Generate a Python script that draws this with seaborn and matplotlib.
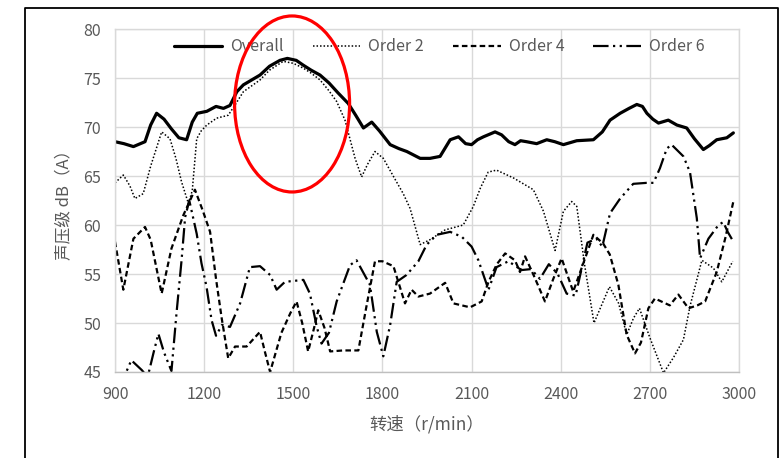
import matplotlib
matplotlib.use("Agg")
import matplotlib.pyplot as plt
from matplotlib.patches import Ellipse
from matplotlib.lines import Line2D
import seaborn as sns
import pandas as pd

# ---------------- data ----------------
overall_rpm = [900, 930, 962, 1001, 1020, 1040, 1065, 1090, 1115, 1141, 1160, 1177, 1209, 1240,
               1265, 1287, 1310, 1332, 1360, 1388, 1420, 1455, 1480, 1510, 1534, 1560, 1590, 1620,
               1650, 1685, 1710, 1736, 1764, 1790, 1826, 1855, 1882, 1927, 1960, 1994, 2028, 2056,
               2080, 2100, 2120, 2140, 2179, 2201, 2225, 2246, 2265, 2285, 2319, 2353, 2380, 2409,
               2454, 2510, 2540, 2566, 2600, 2630, 2656, 2675, 2690, 2710, 2729, 2762, 2791, 2824,
               2850, 2880, 2900, 2925, 2959, 2981]
overall_db = [68.5, 68.3, 68.0, 68.5, 70.2, 71.4, 70.8, 69.8, 68.9, 68.7, 70.5, 71.4, 71.6, 72.1,
              71.9, 72.2, 73.6, 74.3, 74.8, 75.3, 76.2, 76.8, 77.0, 76.8, 76.3, 75.8, 75.3, 74.5,
              73.5, 72.4, 71.2, 69.9, 70.5, 69.6, 68.2, 67.8, 67.5, 66.8, 66.8, 67.0, 68.7, 69.0,
              68.3, 68.2, 68.7, 69.0, 69.5, 69.2, 68.5, 68.2, 68.6, 68.5, 68.3, 68.7, 68.5, 68.2,
              68.6, 68.7, 69.5, 70.7, 71.4, 71.9, 72.3, 72.1, 71.4, 70.8, 70.4, 70.7, 70.2, 69.9,
              68.8, 67.7, 68.1, 68.7, 68.9, 69.4]

order2_rpm = [900, 928, 950, 967, 995, 1020, 1057, 1085, 1105, 1124, 1147, 1160, 1175, 1190, 1209,
              1242, 1281, 1305, 1332, 1360, 1388, 1420, 1466, 1500, 1534, 1560, 1590, 1620, 1646,
              1674, 1708, 1730, 1750, 1775, 1803, 1840, 1870, 1893, 1927, 1960, 2011, 2072, 2106,
              2130, 2156, 2184, 2241, 2308, 2342, 2381, 2409, 2437, 2454, 2480, 2512, 2540, 2564,
              2595, 2622, 2645, 2665, 2700, 2746, 2780, 2813, 2835, 2875, 2914, 2942, 2979]
order2_db = [64.3, 65.1, 64.0, 62.7, 63.2, 66.0, 69.5, 68.8, 66.8, 64.4, 62.2, 63.5, 68.8, 69.6, 70.2,
             70.9, 71.2, 72.3, 73.6, 74.2, 74.8, 75.8, 76.7, 76.5, 76.0, 75.5, 74.8, 73.7, 72.6,
             70.7, 66.8, 64.9, 66.2, 67.5, 66.8, 64.8, 63.2, 61.7, 58.0, 58.5, 59.5, 60.0, 61.9,
             63.8, 65.4, 65.6, 64.8, 63.6, 61.4, 57.4, 61.4, 62.4, 61.9, 56.0, 50.0, 52.0, 53.7,
             52.0, 48.8, 50.5, 51.5, 48.5, 44.9, 46.5, 48.3, 51.7, 56.4, 55.6, 54.2, 56.3]

order4_rpm = [900, 928, 962, 1001, 1020, 1057, 1090, 1130, 1169, 1195, 1220, 1240, 1259, 1281, 1304,
              1343, 1370, 1388, 1405, 1422, 1460, 1490, 1511, 1530, 1550, 1570, 1584, 1605, 1624,
              1668, 1719, 1745, 1775, 1800, 1837, 1876, 1898, 1921, 1960, 2011, 2039, 2095, 2134,
              2157, 2185, 2213, 2246, 2263, 2280, 2310, 2347, 2375, 2403, 2442, 2475, 2510, 2543,
              2565, 2594, 2622, 2650, 2670, 2695, 2717, 2767, 2796, 2830, 2860, 2886, 2925, 2955,
              2981]
order4_db = [58.3, 53.4, 58.6, 59.8, 58.5, 53.0, 57.6, 61.0, 63.6, 61.5, 59.3, 54.5, 50.5, 46.4, 47.6,
             47.6, 48.5, 49.1, 47.0, 45.0, 49.0, 51.0, 52.2, 50.0, 47.1, 49.5, 51.3, 49.5, 47.1,
             47.2, 47.2, 51.5, 56.3, 56.3, 55.8, 52.0, 53.4, 52.7, 53.0, 54.1, 52.0, 51.6, 52.2,
             54.2, 56.0, 57.1, 56.4, 55.2, 56.8, 54.8, 52.2, 54.5, 56.6, 53.2, 56.0, 59.0, 58.1,
             57.0, 53.9, 48.8, 46.9, 48.0, 51.5, 52.5, 51.8, 52.9, 51.5, 51.8, 52.2, 55.2, 58.8,
             62.4]

order6_rpm = [900, 935, 955, 990, 1010, 1030, 1046, 1065, 1090, 1107, 1124, 1136, 1150, 1175, 1191,
              1208, 1225, 1240, 1260, 1287, 1321, 1354, 1388, 1422, 1444, 1472, 1534, 1556, 1579,
              1595, 1620, 1646, 1691, 1713, 1758, 1781, 1803, 1826, 1848, 1881, 1921, 1949, 1983,
              2028, 2067, 2100, 2123, 2157, 2184, 2224, 2268, 2300, 2330, 2360, 2390, 2420, 2450,
              2470, 2490, 2520, 2540, 2566, 2600, 2644, 2689, 2712, 2734, 2757, 2773, 2813, 2835,
              2858, 2869, 2897, 2931, 2947, 2962, 2981]
order6_db = [43.5, 44.8, 46.2, 45.2, 44.5, 47.0, 48.9, 47.0, 45.1, 51.0, 56.4, 60.8, 62.5, 59.1, 56.1,
             53.7, 50.3, 48.7, 49.8, 49.6, 52.0, 55.7, 55.8, 54.9, 53.4, 54.2, 54.4, 53.0, 49.6,
             47.9, 49.0, 52.2, 55.9, 56.4, 53.9, 49.1, 46.6, 49.8, 54.2, 54.9, 56.3, 58.0, 59.0,
             59.3, 58.8, 57.8, 56.4, 53.4, 55.7, 56.3, 55.4, 55.5, 54.5, 56.0, 55.0, 53.0, 52.8,
             55.5, 58.2, 58.6, 57.8, 61.2, 62.7, 64.2, 64.3, 64.3, 65.8, 67.8, 68.2, 67.0, 65.4,
             60.7, 56.6, 58.6, 60.0, 60.3, 59.3, 58.3]

series_names = ["Overall", "Order 2", "Order 4", "Order 6"]
x_ticks = [900, 1200, 1500, 1800, 2100, 2400, 2700, 3000]
y_ticks = [45, 50, 55, 60, 65, 70, 75, 80]
x_label = "转速（r/min）"
y_label = "声压级 dB（A）"

# ---------------- style ----------------
sns.set_style("white")
plt.rcParams['font.family'] = ['Noto Sans CJK SC', 'DejaVu Sans']
GRAY_TXT = "#595959"
GRID = "#d9d9d9"

fig = plt.figure(figsize=(7.82, 4.58), dpi=100)
ax = fig.add_axes([115 / 782, 1 - 372 / 458, 624 / 782, 343 / 458])

styles = {
    "Overall": dict(linestyle="-", linewidth=2.3),
    "Order 2": dict(linestyle=(0, (1, 1.3)), linewidth=1.1),
    "Order 4": dict(linestyle=(0, (2.5, 1.5)), linewidth=1.6),
    "Order 6": dict(linestyle=(0, (7, 2, 1, 2, 1, 2)), linewidth=1.6),
}
data = {
    "Overall": (overall_rpm, overall_db),
    "Order 2": (order2_rpm, order2_db),
    "Order 4": (order4_rpm, order4_db),
    "Order 6": (order6_rpm, order6_db),
}

handles = []
for name in series_names:
    rpm, db = data[name]
    df = pd.DataFrame({"rpm": rpm, "dB": db})
    sns.lineplot(data=df, x="rpm", y="dB", ax=ax, color="black", estimator=None, sort=False,
                 **styles[name])
    handles.append(Line2D([], [], color="black", **styles[name]))

ax.set_xlim(900, 3000)
ax.set_ylim(45, 80)
ax.set_xticks(x_ticks)
ax.set_yticks(y_ticks)
ax.grid(True, color=GRID, linewidth=1.0)
ax.set_axisbelow(True)
for s in ax.spines.values():
    s.set_color(GRID)
    s.set_linewidth(1.0)
ax.spines["bottom"].set_color("#bfbfbf")
ax.tick_params(axis="both", length=0, labelsize=11.5, labelcolor=GRAY_TXT, pad=10)

ax.set_xlabel(x_label, fontsize=12.5, color=GRAY_TXT)
ax.set_ylabel(y_label, fontsize=12, color=GRAY_TXT)
ax.xaxis.set_label_coords(0.5, -0.125)
ax.xaxis.label.set_va("top")
ax.yaxis.set_label_coords(-0.080, 0.5)
ax.yaxis.label.set_va("center")

leg = ax.legend(handles, series_names, ncol=4, loc="upper center", bbox_to_anchor=(0.52, 1.015),
                frameon=False, fontsize=11.5, handlelength=3.0, columnspacing=1.8, handletextpad=0.5)
for t in leg.get_texts():
    t.set_color(GRAY_TXT)

# red highlight ellipse
ell = Ellipse((1496, 72.35), width=387, height=17.96, transform=ax.transData, fill=False,
              edgecolor="red", linewidth=2.3, clip_on=False, zorder=6)
ax.add_patch(ell)

# outer black frame (left, top, right)
L, T, R = 25 / 782, 1 - 8 / 458, 778 / 782
fig.add_artist(Line2D([L, L, R, R], [0, T, T, 0], transform=fig.transFigure, color="black",
                      linewidth=1.3))

fig.savefig("out.png", dpi=100)
